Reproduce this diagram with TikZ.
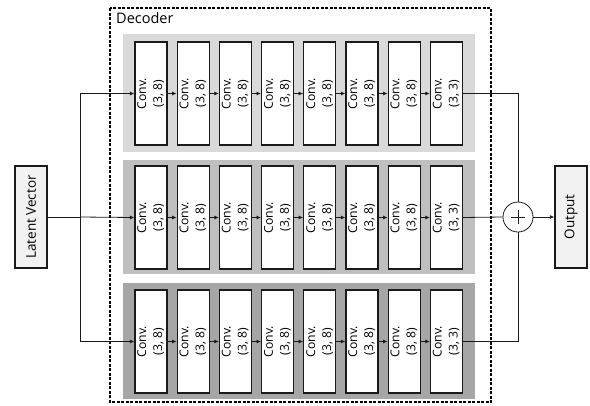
\documentclass[tikz,border=0pt]{standalone}
\usepackage{fontspec}
\setmainfont{Open Sans}
\usepackage{graphicx}
\usetikzlibrary{arrows.meta}
\definecolor{bandA}{HTML}{D9D9D9}
\definecolor{bandB}{HTML}{BFBFBF}
\definecolor{bandC}{HTML}{A6A6A6}
\definecolor{ioFill}{HTML}{F2F2F2}
\definecolor{lineC}{HTML}{1A1A1A}
\newcommand{\convlabel}[1]{\rotatebox{90}{\fontsize{12.2}{16}\selectfont\begin{tabular}{@{}c@{}}Conv.\\#1\end{tabular}}}
\begin{document}
\begin{tikzpicture}[x=1pt,y=-1pt,
  convbox/.style={draw=lineC,line width=1.2pt,fill=white,minimum width=32pt,minimum height=103pt,inner sep=0pt,anchor=center},
  iobox/.style={draw=lineC,line width=1.2pt,fill=ioFill,minimum width=32pt,minimum height=102pt,inner sep=0pt},
  conn/.style={draw=lineC,line width=0.8pt},
  arr/.style={conn,-{Latex[length=4.5pt,width=4pt]}},
  decobox/.style={draw=black,line width=1.1pt,dash pattern=on 3pt off 1.5pt}]
\useasboundingbox (0,0) rectangle (590,405);
\fill[white] (0,0) rectangle (590,405);
% decoder frame
\draw[decobox] (110,8) rectangle (491,402);
\node[anchor=west,inner sep=0pt,font=\fontsize{14.5}{16}\selectfont] (declabel) at (116,18) {Decoder};
% bands
\fill[bandA] (123,34) rectangle (475,152);
\fill[bandB] (123,160) rectangle (475,274);
\fill[bandC] (123,283) rectangle (475,399);
% boxes
\foreach \r/\y in {1/93.5,2/217.5,3/341.5}{
  \foreach \c in {1,...,7}{
    \node[convbox] (b\r\c) at ({151+42.2*(\c-1)},\y) {\convlabel{(3, 8)}};
  }
  \node[convbox] (b\r8) at ({151+42.2*7},\y) {\convlabel{(3, 3)}};
  \foreach \c [evaluate=\c as \n using int(\c+1)] in {1,...,7}{
    \draw[arr] (b\r\c.east) -- (b\r\n.west);
  }
}
% io
\node[iobox] (latent) at (31,217) {\rotatebox{90}{\fontsize{13.5}{15}\selectfont Latent Vector}};
\node[iobox] (output) at (571,217) {\rotatebox{90}{\fontsize{13.5}{15}\selectfont Output}};
\node[draw=lineC,line width=0.8pt,circle,minimum size=30pt,inner sep=0pt,fill=white] (plus) at (518,217) {};
\draw[lineC,line width=0.8pt] ([xshift=-7pt]plus.center) -- ([xshift=7pt]plus.center)
  ([yshift=-7pt]plus.center) -- ([yshift=7pt]plus.center);
% split
\coordinate (split) at (80,217);
\coordinate (stop) at (80,93.5);
\coordinate (sbot) at (80,341.5);
\draw[conn] (latent.east) -- (split);
\draw[conn] (stop) -- (sbot);
\draw[arr] (split) -- (b21.west);
\draw[arr] (stop) -- (b11.west);
\draw[arr] (sbot) -- (b31.west);
% merge
\coordinate (mtop) at (518,93.5);
\coordinate (mbot) at (518,341.5);
\draw[conn] (b18.east) -- (mtop) -- (plus.north);
\draw[conn] (b38.east) -- (mbot) -- (plus.south);
\draw[conn] (b28.east) -- (plus.west);
\draw[arr] (plus.east) -- (output.west);
\end{tikzpicture}
\end{document}
